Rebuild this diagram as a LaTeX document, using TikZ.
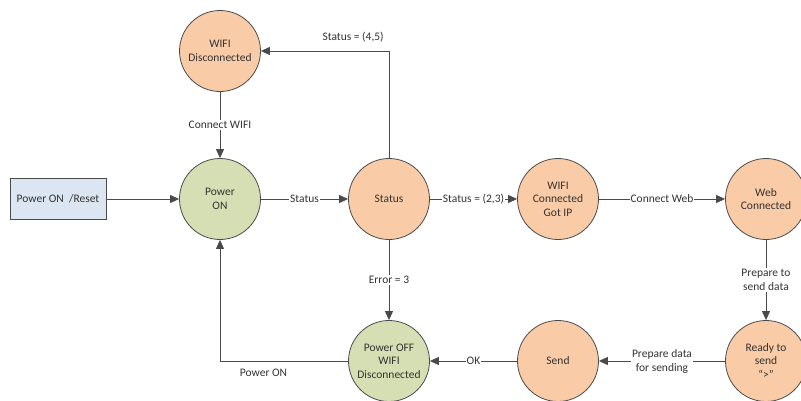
\documentclass[tikz,border=0pt]{standalone}
\usepackage{fontspec}
\setmainfont{Carlito}
\usetikzlibrary{arrows.meta,positioning}

\definecolor{stateorange}{HTML}{F9CBA6}
\definecolor{stategreen}{HTML}{D6DFB4}
\definecolor{startblue}{HTML}{DCE6F2}
\definecolor{linegrey}{HTML}{4A4A4A}
\definecolor{textgrey}{HTML}{333333}

\tikzset{
    state/.style={circle, draw=linegrey, line width=0.8pt, minimum size=81pt,
        inner sep=0pt, align=center, text=textgrey, font=\fontsize{11.5}{13.5}\selectfont},
    onstate/.style={state, fill=stategreen},
    wifistate/.style={state, fill=stateorange},
    startbox/.style={rectangle, draw=linegrey, line width=0.8pt, fill=startblue,
        minimum width=96pt, minimum height=41pt, text=textgrey,
        font=\fontsize{11.5}{13.5}\selectfont},
    flow/.style={-{Triangle[length=9pt,width=8pt]}, draw=linegrey, line width=1pt},
    cond/.style={fill=white, inner sep=1pt, align=center, text=textgrey,
        font=\fontsize{11.5}{14}\selectfont}
}

\begin{document}
\begin{tikzpicture}[x=1pt,y=-1pt]
    \useasboundingbox (0,0) rectangle (801,400);

    % Nodes
    \node[startbox] (reset) at (58,199) {Power ON\ \ /Reset};
    \node[onstate] (pon) at (220,199) {Power\\ON};
    \node[wifistate] (wdis) at (220,51) {WIFI\\Disconnected};
    \node[wifistate] (stat) at (389,199) {Status};
    \node[wifistate] (wcon) at (558,199) {WIFI\\Connected\\Got IP};
    \node[wifistate] (web) at (766,199) {Web\\Connected};
    \node[wifistate] (ready) at (766,361) {Ready to\\send\\“>”};
    \node[wifistate] (send) at (558,361) {Send};
    \node[onstate] (poff) at (389,361) {Power OFF\\WIFI\\Disconnected};

    % Edges
    \draw[flow] (reset) -- (pon);
    \draw[flow] (wdis) -- node[cond] {Connect WIFI} (pon);
    \draw[flow] (pon) -- node[cond] {Status} (stat);
    \draw[flow] (stat) |- node[cond, pos=0.64, above=7pt, fill=none] {Status = (4,5)} (wdis);
    \draw[flow] (stat) -- node[cond] {Status = (2,3)} (wcon);
    \draw[flow] (stat) -- node[cond] {Error = 3} (poff);
    \draw[flow] (wcon) -- node[cond] {Connect Web} (web);
    \draw[flow] (web) -- node[cond] {Prepare to\\send data} (ready);
    \draw[flow] (ready) -- node[cond] {Prepare data\\for sending} (send);
    \draw[flow] (send) -- node[cond] {OK} (poff);
    \draw[flow] (poff) -| node[cond, pos=0.33, below=7pt, fill=none] {Power ON} (pon);
\end{tikzpicture}
\end{document}
